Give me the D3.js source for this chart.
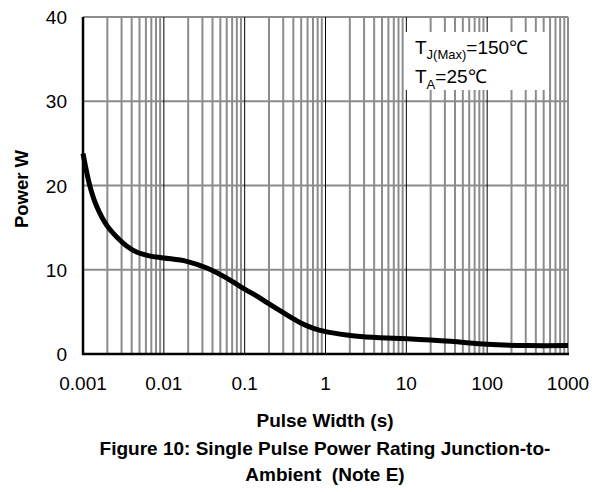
<!DOCTYPE html>
<html><head><meta charset="utf-8">
<script src="https://cdn.jsdelivr.net/npm/d3@7"></script>
<style>
html,body{margin:0;padding:0;background:#fff;}
text{font-family:"Liberation Sans",Arial,sans-serif;fill:#000;white-space:pre;}
</style></head>
<body>
<svg id="c" width="601" height="492"></svg>
<script>
const xTicks = [0.001, 0.01, 0.1, 1, 10, 100, 1000];
const xTickLabels = ["0.001", "0.01", "0.1", "1", "10", "100", "1000"];
const yTicks = [0, 10, 20, 30, 40];
const pulseWidth = [0.001, 0.00122, 0.00148, 0.00196, 0.00287, 0.0035, 0.0046, 0.0066, 0.01, 0.0192, 0.034, 0.06, 0.1, 0.14, 0.196, 0.30, 0.48, 0.71, 1.0, 1.83, 2.94, 4.7, 10.2, 35, 100, 313, 1000];
const power = [23.8, 19.9, 17.5, 15.3, 13.5, 12.8, 12.1, 11.65, 11.4, 11.0, 10.2, 9.0, 7.7, 6.9, 6.0, 4.9, 3.75, 3.05, 2.65, 2.25, 2.05, 1.94, 1.8, 1.5, 1.15, 1.0, 1.0];
const xTitle = "Pulse Width (s)";
const yTitle = "Power W";
const caption = ["Figure 10: Single Pulse Power Rating Junction-to-", "Ambient  (Note E)"];

const L = 83, R = 568, T = 17, B = 354;
const svg = d3.select("#c");
const x = d3.scaleLog().domain([0.001, 1000]).range([L, R]);
const y = d3.scaleLinear().domain([0, 40]).range([B, T]);

// minor vertical grid
const minor = [];
for (let e = -3; e < 3; e++) for (let k = 2; k <= 9; k++) minor.push(k * Math.pow(10, e));
svg.append("g").selectAll("line").data(minor).join("line")
  .attr("x1", d => x(d)).attr("x2", d => x(d)).attr("y1", T).attr("y2", B)
  .attr("stroke", "#8c8c8c").attr("stroke-width", 2);
// horizontal grid
svg.append("g").selectAll("line").data(yTicks.filter(d => d > 0)).join("line")
  .attr("x1", L).attr("x2", R).attr("y1", d => y(d)).attr("y2", d => y(d))
  .attr("stroke", "#8c8c8c").attr("stroke-width", 2);
// right border
svg.append("line").attr("x1", R).attr("x2", R).attr("y1", T).attr("y2", B)
  .attr("stroke", "#8c8c8c").attr("stroke-width", 2);
// major decades
svg.append("g").selectAll("line").data(xTicks.slice(1, -1)).join("line")
  .attr("x1", d => x(d)).attr("x2", d => x(d)).attr("y1", T).attr("y2", B)
  .attr("stroke", "#000").attr("stroke-width", 1);

// legend box
svg.append("rect").attr("x", 405).attr("y", 32).attr("width", 144).attr("height", 58).attr("fill", "#fff");
const l1 = svg.append("text").attr("x", 415).attr("y", 54).attr("font-size", 19);
l1.append("tspan").text("T");
l1.append("tspan").attr("font-size", 13).attr("dy", 5).text("J(Max)");
l1.append("tspan").attr("dy", -5).text("=150℃");
const l2 = svg.append("text").attr("x", 415).attr("y", 83).attr("font-size", 19);
l2.append("tspan").text("T");
l2.append("tspan").attr("font-size", 13).attr("dy", 6).text("A");
l2.append("tspan").attr("dy", -6).text("=25℃");

// axes lines
svg.append("line").attr("x1", L).attr("x2", L).attr("y1", T).attr("y2", B + 1)
  .attr("stroke", "#000").attr("stroke-width", 2.5);
svg.append("line").attr("x1", L - 1).attr("x2", R + 1).attr("y1", B).attr("y2", B)
  .attr("stroke", "#000").attr("stroke-width", 2.5);

// curve
const pts = pulseWidth.map((d, i) => [d, power[i]]);
svg.append("path").datum(pts)
  .attr("d", d3.line().x(d => x(d[0])).y(d => y(d[1])).curve(d3.curveCatmullRom.alpha(0.5)))
  .attr("fill", "none").attr("stroke", "#000").attr("stroke-width", 5)
  .attr("stroke-linejoin", "round");

// tick labels
svg.append("g").selectAll("text").data(xTicks).join("text")
  .attr("x", d => x(d)).attr("y", 390).attr("text-anchor", "middle").attr("font-size", 19)
  .text((d, i) => xTickLabels[i]);
svg.append("g").selectAll("text").data(yTicks).join("text")
  .attr("x", 67).attr("y", d => y(d) + 7).attr("text-anchor", "end").attr("font-size", 19)
  .text(d => d);

// titles
svg.append("text").attr("x", 325).attr("y", 427).attr("text-anchor", "middle")
  .attr("font-size", 19).attr("font-weight", "bold").text(xTitle);
svg.append("text").attr("transform", "translate(28,189) rotate(-90)").attr("text-anchor", "middle")
  .attr("font-size", 18.5).attr("font-weight", "bold").text(yTitle);
svg.append("g").selectAll("text").data(caption).join("text")
  .attr("x", 325).attr("y", (d, i) => 455 + i * 26).attr("text-anchor", "middle")
  .attr("xml:space", "preserve")
  .attr("font-size", 19).attr("font-weight", "bold").text(d => d);
</script>
</body></html>
